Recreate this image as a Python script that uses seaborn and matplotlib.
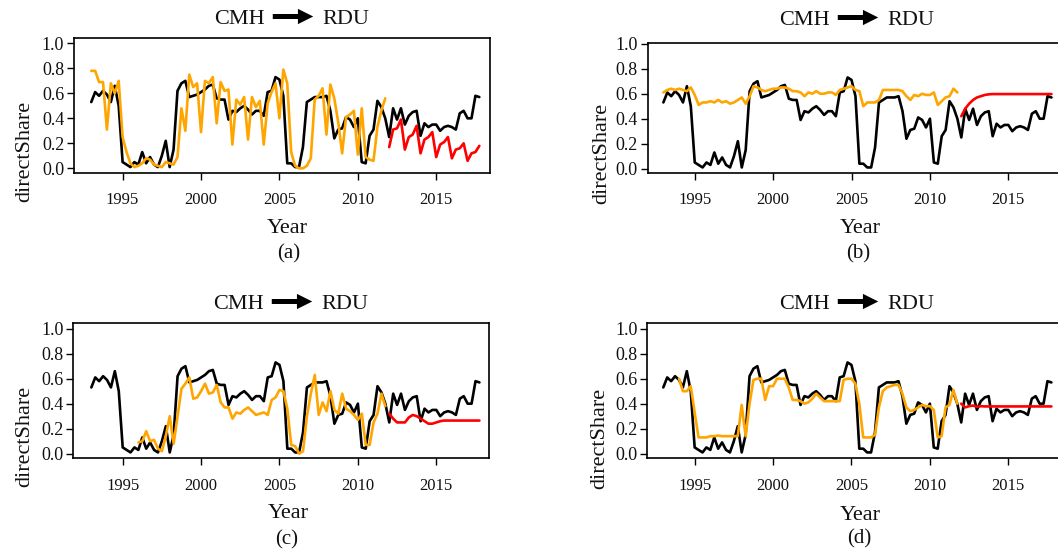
import numpy as np
import pandas as pd
import matplotlib
matplotlib.use("Agg")
import matplotlib.pyplot as plt
from matplotlib.patches import FancyArrowPatch
import seaborn as sns

# ---------------- data ----------------
quarters = np.arange(1993, 2018, 0.25)  # 1993.00 ... 2017.75 (100 quarters)

actual = [0.53, 0.61, 0.58, 0.62, 0.59, 0.53, 0.66, 0.50,
          0.05, 0.03, 0.01, 0.05, 0.03, 0.13, 0.04, 0.09,
          0.03, 0.01, 0.10, 0.22, 0.01, 0.15, 0.62, 0.68,
          0.70, 0.57, 0.58, 0.59, 0.61, 0.63, 0.66, 0.67,
          0.56, 0.55, 0.55, 0.39, 0.46, 0.45, 0.48, 0.50,
          0.47, 0.43, 0.46, 0.46, 0.42, 0.61, 0.62, 0.73,
          0.71, 0.58, 0.04, 0.04, 0.01, 0.01, 0.17, 0.53,
          0.55, 0.57, 0.57, 0.57, 0.58, 0.46, 0.24, 0.31,
          0.32, 0.41, 0.39, 0.33, 0.40, 0.05, 0.04, 0.26,
          0.31, 0.54, 0.49, 0.40, 0.25, 0.48, 0.39, 0.48,
          0.35, 0.42, 0.45, 0.46, 0.26, 0.36, 0.33, 0.35,
          0.35, 0.30, 0.33, 0.34, 0.33, 0.31, 0.44, 0.46,
          0.40, 0.40, 0.58, 0.57]

# panel (a): fitted from 1993.00, forecast from 2012.00
fit_a = [0.78, 0.78, 0.69, 0.69, 0.31, 0.68, 0.60, 0.70,
         0.25, 0.13, 0.04, 0.01, 0.02, 0.04, 0.08, 0.07,
         0.03, 0.02, 0.01, 0.05, 0.04, 0.03, 0.09, 0.48,
         0.30, 0.75, 0.65, 0.68, 0.29, 0.70, 0.68, 0.73,
         0.36, 0.69, 0.62, 0.63, 0.19, 0.55, 0.51, 0.57,
         0.23, 0.57, 0.49, 0.54, 0.19, 0.52, 0.61, 0.68,
         0.40, 0.79, 0.68, 0.13, 0.02, 0.00, 0.00, 0.02,
         0.08, 0.55, 0.58, 0.64, 0.27, 0.67, 0.56, 0.37,
         0.12, 0.41, 0.43, 0.46, 0.11, 0.48, 0.09, 0.07,
         0.06, 0.33, 0.46, 0.56]
fc_a = [0.17, 0.31, 0.32, 0.39, 0.15, 0.25, 0.27, 0.34,
        0.12, 0.23, 0.25, 0.29, 0.09, 0.19, 0.21, 0.25,
        0.08, 0.15, 0.16, 0.20, 0.06, 0.12, 0.13, 0.18]

# panel (b)
fit_b = [0.61, 0.63, 0.64, 0.63, 0.64, 0.63, 0.62, 0.65,
         0.59, 0.51, 0.53, 0.53, 0.54, 0.53, 0.55, 0.53,
         0.54, 0.52, 0.53, 0.55, 0.57, 0.52, 0.58, 0.66,
         0.65, 0.63, 0.62, 0.63, 0.64, 0.64, 0.65, 0.65,
         0.64, 0.62, 0.62, 0.61, 0.58, 0.61, 0.60, 0.62,
         0.60, 0.60, 0.61, 0.61, 0.59, 0.63, 0.64, 0.65,
         0.66, 0.63, 0.62, 0.50, 0.53, 0.53, 0.53, 0.55,
         0.63, 0.63, 0.63, 0.63, 0.63, 0.62, 0.58, 0.55,
         0.59, 0.58, 0.60, 0.59, 0.59, 0.61, 0.51, 0.54,
         0.57, 0.58, 0.64, 0.61]
fc_b = [0.42, 0.48, 0.52, 0.55, 0.57, 0.58, 0.59, 0.595,
        0.597, 0.597, 0.597, 0.597, 0.597, 0.597, 0.597, 0.597,
        0.597, 0.597, 0.597, 0.597, 0.597, 0.597, 0.597, 0.597]

# panel (c): fitted from 1996.00
fit_c = [0.09, 0.10, 0.18, 0.10, 0.11, 0.04, 0.02, 0.14,
         0.30, 0.08, 0.30, 0.52, 0.56, 0.61, 0.44, 0.45,
         0.50, 0.56, 0.48, 0.49, 0.55, 0.41, 0.37, 0.37,
         0.28, 0.33, 0.32, 0.35, 0.37, 0.34, 0.31, 0.32,
         0.33, 0.31, 0.43, 0.45, 0.51, 0.50, 0.36, 0.07,
         0.06, 0.00, 0.02, 0.30, 0.48, 0.63, 0.31, 0.41,
         0.34, 0.50, 0.35, 0.32, 0.48, 0.36, 0.34, 0.31,
         0.27, 0.32, 0.07, 0.07, 0.25, 0.32, 0.48, 0.38]
fc_c = [0.32, 0.28, 0.25, 0.25, 0.25, 0.29, 0.31, 0.30,
        0.28, 0.26, 0.24, 0.24, 0.25, 0.26, 0.265, 0.265,
        0.265, 0.265, 0.265, 0.265, 0.265, 0.265, 0.265, 0.265]

# panel (d): fitted from 1994.00
fit_d = [0.60, 0.50, 0.50, 0.54, 0.33, 0.13, 0.13, 0.13,
         0.14, 0.14, 0.145, 0.14, 0.14, 0.14, 0.14, 0.14,
         0.39, 0.14, 0.40, 0.59, 0.60, 0.60, 0.43, 0.54,
         0.54, 0.60, 0.60, 0.60, 0.53, 0.43, 0.43, 0.42,
         0.40, 0.41, 0.44, 0.48, 0.45, 0.42, 0.42, 0.42,
         0.42, 0.42, 0.59, 0.60, 0.60, 0.56, 0.40, 0.13,
         0.13, 0.13, 0.15, 0.37, 0.50, 0.53, 0.54, 0.55,
         0.55, 0.48, 0.37, 0.34, 0.35, 0.37, 0.39, 0.38,
         0.38, 0.35, 0.13, 0.14, 0.37, 0.39, 0.51, 0.40]
fc_d = [0.40, 0.37, 0.38, 0.385, 0.375, 0.38, 0.378, 0.378,
        0.378, 0.378, 0.378, 0.378, 0.378, 0.378, 0.378, 0.378,
        0.378, 0.378, 0.378, 0.378, 0.378, 0.378, 0.378, 0.378]

panels = [
    ("(a)", fit_a, 0, fc_a),
    ("(b)", fit_b, 0, fc_b),
    ("(c)", fit_c, 12, fc_c),
    ("(d)", fit_d, 4, fc_d),
]
FC_START = 76
xtick_vals = [1995, 2000, 2005, 2010, 2015]
ytick_vals = [0.0, 0.2, 0.4, 0.6, 0.8, 1.0]
ytick_labels = ["0.0", "0.2", "0.4", "0.6", "0.8", "1.0"]
title_from, title_to = "CMH", "RDU"

# ---------------- style ----------------
sns.set_theme(style="white")
plt.rcParams["font.family"] = ["Liberation Serif", "DejaVu Sans"]
palette = {"actual": "black", "fitted": "#FFA500", "forecast": "#FF0000"}

W, H = 1058, 550
fig = plt.figure(figsize=(W / 100, H / 100), dpi=100)
fig.patch.set_facecolor("white")


def fx(x):
    return x / W


def fy(y):
    return 1 - y / H


# layout in pixels: (left, top, bottom, xlim, ylim, title_cx, title_base, ...)
layout = [
    dict(left=74, top=37.7, bottom=172.7, xlim=(1991.90, 2018.43), ylim=(-0.035, 1.045),
         tcx=291, tbase=24, year=(287, 233), lab=(289, 258), ylab=(25, 101)),
    dict(left=647.7, top=42.7, bottom=172.7, xlim=(1992.00, 2018.53), ylim=(-0.032, 1.008),
         tcx=856, tbase=25, year=(860, 233), lab=(858, 258), ylab=(602, 102.5)),
    dict(left=73.3, top=323.3, bottom=458.3, xlim=(1991.85, 2018.38), ylim=(-0.037, 1.043),
         tcx=290, tbase=309, year=(288, 518), lab=(287, 544), ylab=(25, 386)),
    dict(left=647.3, top=323.3, bottom=458.3, xlim=(1991.98, 2018.51), ylim=(-0.037, 1.043),
         tcx=856, tbase=309, year=(860, 520), lab=(859, 543), ylab=(600, 388)),
]
AX_W = 416

for (tag, fit, fit_start, fc), L in zip(panels, layout):
    ax = fig.add_axes([fx(L["left"]), fy(L["bottom"]), AX_W / W,
                       (L["bottom"] - L["top"]) / H])
    frames = [pd.DataFrame({"Year": quarters, "directShare": actual, "series": "actual"}),
              pd.DataFrame({"Year": quarters[fit_start:fit_start + len(fit)],
                            "directShare": fit, "series": "fitted"}),
              pd.DataFrame({"Year": quarters[FC_START:FC_START + len(fc)],
                            "directShare": fc, "series": "forecast"})]
    df = pd.concat(frames, ignore_index=True)
    sns.lineplot(data=df, x="Year", y="directShare", hue="series",
                 hue_order=["actual", "fitted", "forecast"], palette=palette,
                 linewidth=1.9, legend=False, ax=ax, estimator=None)
    ax.set_xlim(*L["xlim"])
    ax.set_ylim(*L["ylim"])
    ax.set_xticks(xtick_vals)
    ax.set_xticklabels([str(v) for v in xtick_vals])
    ax.set_yticks(ytick_vals)
    ax.set_yticklabels(ytick_labels)
    ax.set_xlabel("")
    ax.set_ylabel("")
    ax.tick_params(axis="both", which="major", direction="out", length=5,
                   width=1.0, color="black", labelcolor="#111111",
                   left=True, bottom=True)
    ax.tick_params(axis="x", labelsize=12, pad=9)
    ax.tick_params(axis="y", labelsize=13, pad=2)
    for sp in ax.spines.values():
        sp.set_visible(True)
        sp.set_color("black")
        sp.set_linewidth(1.2)
    ax.set_facecolor("white")

    # title: CMH ➜ RDU
    cx, base = L["tcx"], L["tbase"]
    fig.text(fx(cx - 26), fy(base), title_from, ha="right", va="baseline",
             fontsize=16, color="#111111")
    fig.text(fx(cx + 31), fy(base), title_to, ha="left", va="baseline",
             fontsize=16, color="#111111")
    arr = FancyArrowPatch((fx(cx - 21), fy(base - 7.5)), (fx(cx + 25), fy(base - 7.5)),
                          transform=fig.transFigure,
                          arrowstyle="simple,head_length=1.1,head_width=1.1,tail_width=0.36",
                          mutation_scale=10, color="black", lw=0)
    fig.add_artist(arr)

    # axis labels and panel tag
    fig.text(fx(L["year"][0]), fy(L["year"][1]), "Year", ha="center", va="baseline",
             fontsize=16, color="#111111")
    fig.text(fx(L["lab"][0]), fy(L["lab"][1]), tag, ha="center", va="baseline",
             fontsize=15, color="#111111")
    fig.text(fx(L["ylab"][0]), fy(L["ylab"][1]), "directShare", ha="right", va="center",
             rotation=90, fontsize=16, color="#111111", rotation_mode="anchor")

fig.savefig("out.png", dpi=100, facecolor="white")
